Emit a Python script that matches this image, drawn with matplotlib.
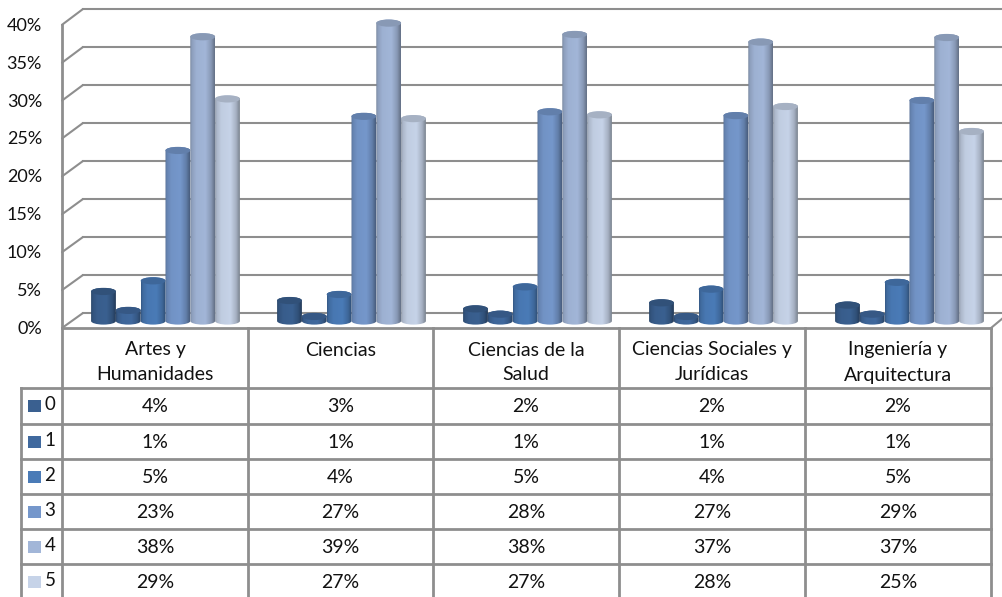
import numpy as np
import matplotlib
matplotlib.use("Agg")
import matplotlib.pyplot as plt
from matplotlib.path import Path
from matplotlib.patches import PathPatch
from matplotlib.colors import to_rgb

categories = ["Artes y\nHumanidades", "Ciencias", "Ciencias de la\nSalud",
              "Ciencias Sociales y\nJurídicas", "Ingeniería y\nArquitectura"]
series_names = ["0", "1", "2", "3", "4", "5"]
s0 = [3.9, 2.7, 1.6, 2.4, 2.1]
s1 = [1.4, 0.6, 0.9, 0.6, 0.9]
s2 = [5.3, 3.5, 4.5, 4.2, 5.1]
s3 = [22.5, 27.0, 27.6, 27.1, 29.1]
s4 = [37.5, 39.3, 37.8, 36.8, 37.4]
s5 = [29.3, 26.7, 27.2, 28.3, 25.0]
series = [s0, s1, s2, s3, s4, s5]
t0 = ["4%", "3%", "2%", "2%", "2%"]
t1 = ["1%", "1%", "1%", "1%", "1%"]
t2 = ["5%", "4%", "5%", "4%", "5%"]
t3 = ["23%", "27%", "28%", "27%", "29%"]
t4 = ["38%", "39%", "38%", "37%", "37%"]
t5 = ["29%", "27%", "27%", "28%", "25%"]
table_text = [t0, t1, t2, t3, t4, t5]
y_ticks = [0, 5, 10, 15, 20, 25, 30, 35, 40]
colors = ["#3a6090", "#40699e", "#4a7bb7", "#7597cb", "#a2b6d8", "#c6d3e8"]

W, H = 1003, 597
plt.rcParams['font.family'] = ['Lato', 'DejaVu Sans']
fig = plt.figure(figsize=(W / 100, H / 100), dpi=100, facecolor="white")
TXT = "#111111"

# overlay in pixels: walls and table
px = fig.add_axes([0, 0, 1, 1], zorder=1)
px.set_xlim(0, W); px.set_ylim(H, 0); px.axis("off")
GRID = "#8e8e8e"; LW = 1.5
for v in y_ticks:
    yf = 328 - 7.58 * v
    yb = 313 - 7.6 * v
    px.plot([62, 83], [yf, yb], color=GRID, lw=LW, solid_capstyle="round")
    px.plot([83, W], [yb, yb], color=GRID, lw=LW)
    px.text(42, yf + 1, f"{v}%", ha="right", va="center", fontsize=13, color=TXT)
px.plot([991, 1003], [328, 318], color=GRID, lw=LW)

col_x = [62, 248, 433, 619, 805, 991]
row_y = [388, 424, 459, 494, 529, 564, 600]
px.plot([62, 62], [25, H], color=GRID, lw=2)
px.plot([62, 991], [328, 328], color=GRID, lw=2)
for x in col_x[1:]:
    px.plot([x, x], [328, H], color=GRID, lw=2)
px.plot([21, 21], [388, H], color=GRID, lw=2)
for y in row_y[:-1]:
    px.plot([21, 991], [y, y], color=GRID, lw=2)

for c, name in enumerate(categories):
    cx = (col_x[c] + col_x[c + 1]) / 2
    for i, line in enumerate(name.split("\n")):
        px.text(cx, 350 + 25 * i, line, ha="center", va="center", fontsize=14, color=TXT)
for r, name in enumerate(series_names):
    yc = (row_y[r] + row_y[r + 1]) / 2
    px.add_patch(plt.Rectangle((28, yc - 6), 13, 12, fc=colors[r], ec="none"))
    px.text(50, yc - 1, name, ha="center", va="center", fontsize=13.5, color=TXT)
    for c in range(5):
        cx = (col_x[c] + col_x[c + 1]) / 2
        px.text(cx, yc + 1, table_text[r][c], ha="center", va="center",
                fontsize=14, color=TXT)

# data axes: bars, category index on x and percent on y
ax = fig.add_axes([0, 0, 1, 1], zorder=2)
ax.patch.set_alpha(0)
base_px, per_pct = 321.0, 7.58
ylim = ((base_px - H) / per_pct, base_px / per_pct)
ax.set_ylim(*ylim)
x0_px, step_px = 165.5, 186.0
xlim = (-x0_px / step_px, (W - x0_px) / step_px)
ax.set_xlim(*xlim)
ax.axis("off")
bw = 24.8 / step_px
cap_h = 3.6 / per_pct

def ellipse_arc(x0, x1, yc, up):
    k = 0.5523
    xm = (x0 + x1) / 2; r = (x1 - x0) / 2
    sgn = 1 if up else -1
    return [(x0, yc + sgn * k * cap_h), (xm - k * r, yc + sgn * cap_h), (xm, yc + sgn * cap_h),
            (xm + k * r, yc + sgn * cap_h), (x1, yc + sgn * k * cap_h), (x1, yc)]

def cylinder_path(x0, x1, top):
    verts = [(x0, 0), (x0, top)] + ellipse_arc(x0, x1, top, True) + [(x1, 0)]
    verts += ellipse_arc(x0, x1, 0, False)[::-1][1:] + [(x0, 0), (x0, 0)]
    codes = [Path.MOVETO, Path.LINETO] + [Path.CURVE4] * 6 + [Path.LINETO] + [Path.CURVE4] * 6 + [Path.CLOSEPOLY]
    return Path(verts, codes)

def cap_path(x0, x1, top):
    verts = [(x0, top)] + ellipse_arc(x0, x1, top, True)
    verts += ellipse_arc(x0, x1, top, False)[::-1][1:] + [(x0, top), (x0, top)]
    codes = [Path.MOVETO] + [Path.CURVE4] * 12 + [Path.CLOSEPOLY]
    return Path(verts, codes)

prof_x = np.linspace(0, 1, 64)
shade = np.interp(prof_x, [0, 0.06, 0.25, 0.62, 0.85, 1.0], [0.72, 0.86, 0.97, 1.0, 0.84, 0.62])
for s, vals in enumerate(series):
    rgb = np.array(to_rgb(colors[s]))
    img = (shade[:, None] * rgb[None, :])[None, :, :]
    for c, v in enumerate(vals):
        x0 = c + (s - 2.5) * bw - bw / 2
        x1 = x0 + bw
        im = ax.imshow(img, extent=(x0, x1, -cap_h, v + cap_h), aspect="auto",
                       interpolation="bilinear", origin="lower", zorder=3 + s * 0.01)
        patch = PathPatch(cylinder_path(x0, x1, v), transform=ax.transData, fc="none", ec="none")
        ax.add_patch(patch)
        im.set_clip_path(patch)
        ax.add_patch(PathPatch(cap_path(x0, x1, v), fc=tuple(rgb * 0.84), ec="none",
                               zorder=3.005 + s * 0.01))
ax.set_xlim(*xlim)
ax.set_ylim(*ylim)
fig.savefig("out.png", dpi=100)
